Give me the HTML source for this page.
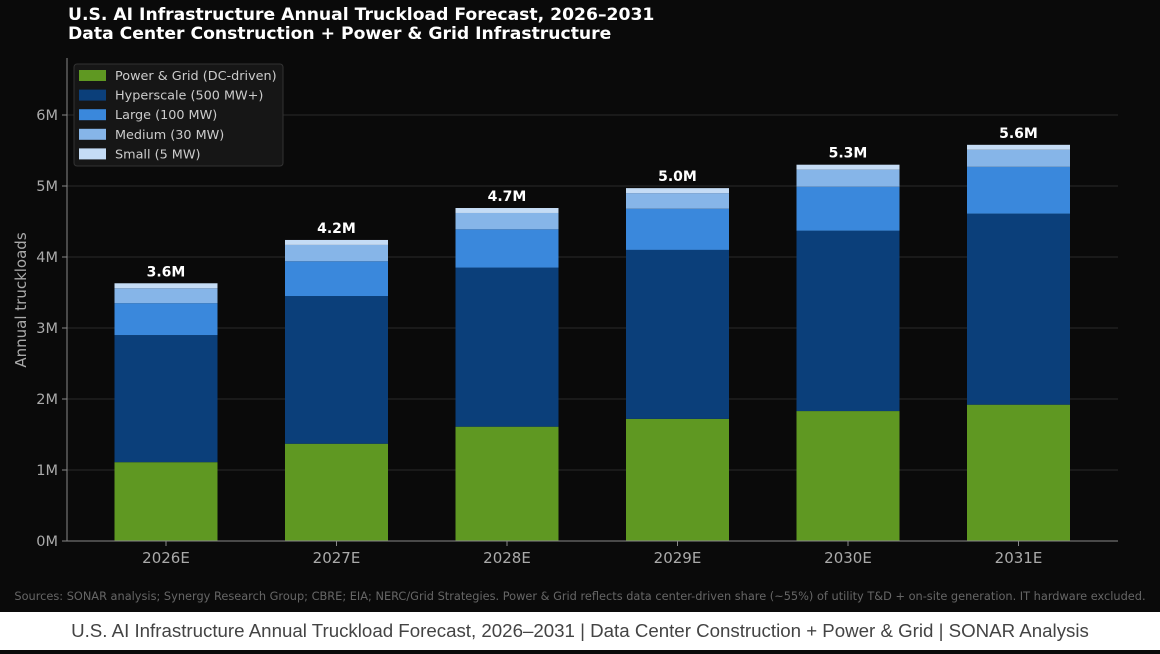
<!DOCTYPE html>
<html><head><meta charset="utf-8"><style>
body{margin:0;width:1160px;height:650px;background:#0a0a0a;overflow:hidden;font-family:"DejaVu Sans","Liberation Sans",sans-serif}
</style></head><body>
<svg id="c" width="1160" height="650" xmlns="http://www.w3.org/2000/svg">
<rect x="0" y="0" width="1160" height="612" fill="#0a0a0a"/>
<rect x="0" y="612" width="1160" height="38" fill="#ffffff"/>
<text x="68" y="20" fill="#fff" font-size="17.2" font-weight="bold">U.S. AI Infrastructure Annual Truckload Forecast, 2026–2031</text>
<text x="68" y="39" fill="#fff" font-size="17.2" font-weight="bold">Data Center Construction + Power &amp; Grid Infrastructure</text>
<g id="grid"></g><g id="bars"></g><g id="axes"></g>
<text x="26" y="300" fill="#aaa" font-size="15" text-anchor="middle" transform="rotate(-90 26 300)">Annual truckloads</text>
<text x="580" y="600" fill="#666" font-size="11.35" text-anchor="middle">Sources: SONAR analysis; Synergy Research Group; CBRE; EIA; NERC/Grid Strategies. Power &amp; Grid reflects data center-driven share (~55%) of utility T&amp;D + on-site generation. IT hardware excluded.</text>
<text x="580" y="637" fill="#444" font-size="18.7" font-family="Liberation Sans, sans-serif" text-anchor="middle">U.S. AI Infrastructure Annual Truckload Forecast, 2026–2031 | Data Center Construction + Power &amp; Grid | SONAR Analysis</text>
<g id="legend"></g>
</svg>
<script>
const categories=["2026E","2027E","2028E","2029E","2030E","2031E"];
const powerGrid=[1.11,1.37,1.61,1.72,1.83,1.92];
const hyperscale=[1.79,2.08,2.24,2.38,2.54,2.69];
const large=[0.45,0.49,0.54,0.58,0.62,0.66];
const medium=[0.21,0.23,0.23,0.22,0.24,0.24];
const small=[0.07,0.07,0.07,0.07,0.07,0.07];
const totalLabels=["3.6M","4.2M","4.7M","5.0M","5.3M","5.6M"];
const yTicks=[0,1,2,3,4,5,6];
const seriesNames=["Power & Grid (DC-driven)","Hyperscale (500 MW+)","Large (100 MW)","Medium (30 MW)","Small (5 MW)"];
const NS="http://www.w3.org/2000/svg";
const L=67,R=1118,B=541,PX=71,step=170.5,bw=103;
const y=v=>B-v*PX; const xc=i=>166+i*step;
function mk(t,a,p){const e=document.createElementNS(NS,t);for(const k in a)e.setAttribute(k,a[k]);p.appendChild(e);return e;}
const grid=document.getElementById('grid'),axes=document.getElementById('axes'),bars=document.getElementById('bars'),lg=document.getElementById('legend');
yTicks.forEach(t=>{
 const g=mk('line',{x1:L,x2:R,y1:y(t),y2:y(t),stroke:'#2a2a2a','stroke-width':1},grid);
 
 const tk=mk('line',{x1:L-5,x2:L,y1:y(t),y2:y(t),stroke:'#888'},axes);
 
 const tx=mk('text',{x:L-9,y:y(t)+5,fill:'#aaa','font-size':14.5,'text-anchor':'end'},axes);tx.textContent=t+'M';
 
});
const sp=mk('line',{x1:L,x2:L,y1:58,y2:B,stroke:'#888'},axes);
const sb=mk('line',{x1:L,x2:R,y1:B,y2:B,stroke:'#888'},axes);
const series=[powerGrid,hyperscale,large,medium,small];
const colors=["#5f9822","#0b3f7a","#3a88dc","#86b5e8","#c5dcf5"];
const keys=["power-grid","hyperscale","large","medium","small"];
categories.forEach((c,i)=>{
 let base=0;
 series.forEach((s,k)=>{
  const r=mk('rect',{x:xc(i)-bw/2,y:y(base+s[i]),width:bw,height:s[i]*PX,fill:colors[k]},bars);
  
  base+=s[i];
 });
 const tl=mk('text',{x:xc(i),y:y(base)-7,fill:'#fff','font-size':14,'font-weight':'bold','text-anchor':'middle'},bars);tl.textContent=totalLabels[i];
 
 const tk=mk('line',{x1:xc(i),x2:xc(i),y1:B,y2:B+5,stroke:'#888'},axes);
 
 const xl=mk('text',{x:xc(i),y:B+22,fill:'#aaa','font-size':15,'text-anchor':'middle'},axes);xl.textContent=c;
 
});
const box=mk('rect',{x:74,y:64,width:209,height:102,rx:3,fill:'#161616',stroke:'#333'},lg);

seriesNames.forEach((n,k)=>{
 const sw=mk('rect',{x:79,y:70+k*19.6,width:27,height:11,fill:colors[k]},lg);
 
 const t=mk('text',{x:115,y:80+k*19.6,fill:'#ccc','font-size':12.8},lg);t.textContent=n;
 
});
</script>
</body></html>
